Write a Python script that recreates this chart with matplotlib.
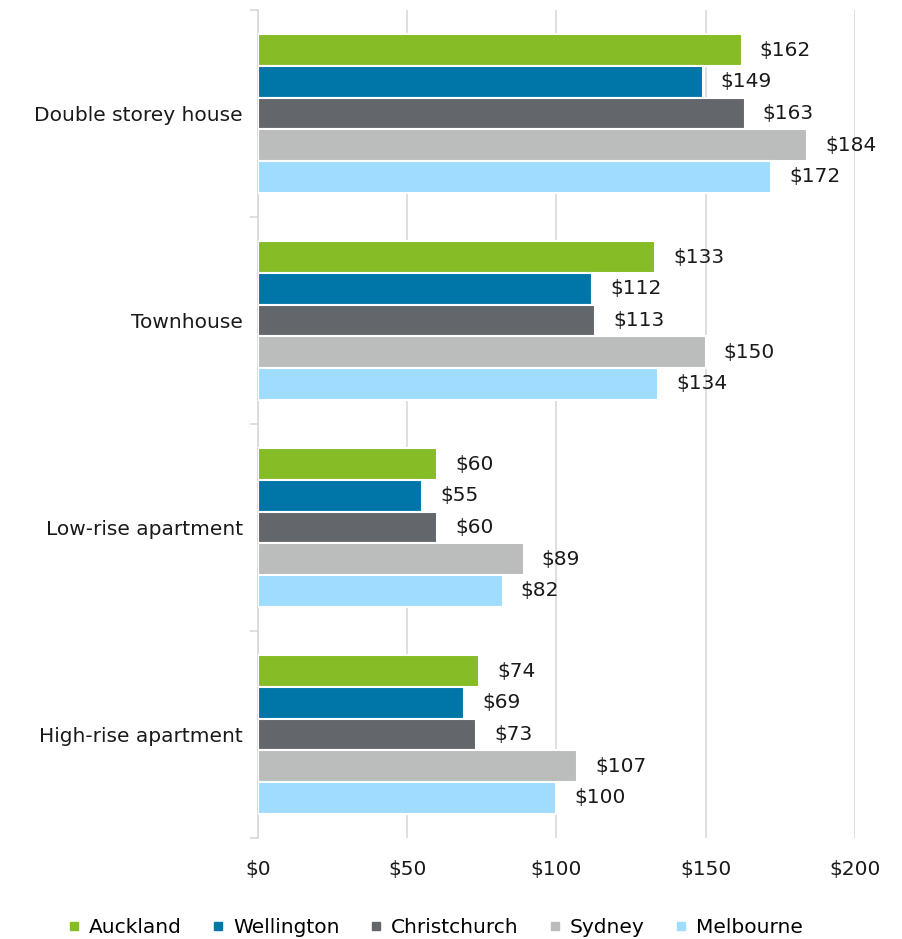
import numpy as np
import matplotlib.pyplot as plt
from matplotlib.ticker import FuncFormatter, FixedLocator

categories = ['Double storey house', 'Townhouse', 'Low-rise apartment', 'High-rise apartment']
cities = ['Auckland', 'Wellington', 'Christchurch', 'Sydney', 'Melbourne']
colours = ['#86bc25', '#0076a8', '#63666a', '#bbbcbc', '#a0dcff']

auckland = [162, 133, 60, 74]
wellington = [149, 112, 55, 69]
christchurch = [163, 113, 60, 73]
sydney = [184, 150, 89, 107]
melbourne = [172, 134, 82, 100]
series = [auckland, wellington, christchurch, sydney, melbourne]

fs = 14.5
plt.rcParams['font.family'] = ['DejaVu Sans']
fig = plt.figure(figsize=(9.03, 9.39), dpi=100)
ax = fig.add_axes([0.2857, 0.1076, 0.6611, 0.8818])

y = np.arange(len(categories))
h = 0.153
for j, (vals, col, name) in enumerate(zip(series, colours, cities)):
    pos = y + (j - 2) * h
    bars = ax.barh(pos, vals, height=h, color=col, edgecolor='white', linewidth=1.5,
                   label=name, zorder=3)
    for b, v in zip(bars, vals):
        ax.annotate('$%d' % v, (v, b.get_y() + b.get_height() / 2), xytext=(13, 0),
                    textcoords='offset points', va='center', ha='left', fontsize=fs,
                    color='#1a1a1a')

ax.set_xlim(0, 200)
ax.set_ylim(len(categories) - 0.5, -0.5)
ax.xaxis.set_major_locator(FixedLocator([0, 50, 100, 150, 200]))
ax.xaxis.set_major_formatter(FuncFormatter(lambda v, p: '$%d' % v))
ax.grid(axis='x', color='#d9d9d9', linewidth=1.2, zorder=0)
ax.tick_params(axis='x', length=0, pad=16, labelsize=fs, labelcolor='#1a1a1a')

ax.set_yticks(y)
ax.set_yticklabels(categories, fontsize=fs, color='#1a1a1a')
ax.set_yticks(np.arange(-0.5, len(categories)), minor=True)
ax.tick_params(axis='y', which='major', length=0, pad=11)
ax.tick_params(axis='y', which='minor', length=6, color='#d9d9d9', width=1.2)

for s in ['top', 'right', 'bottom']:
    ax.spines[s].set_visible(False)
ax.spines['left'].set_color('#d9d9d9')
ax.spines['left'].set_linewidth(1.2)

handles = [plt.Line2D([], [], marker='s', linestyle='', color=c, markersize=6) for c in colours]
fig.legend(handles, cities, loc='lower center', bbox_to_anchor=(0.48, -0.017), ncol=5,
           frameon=False, fontsize=fs, handletextpad=0.25, columnspacing=1.3,
           handlelength=1.0)

fig.savefig('out.png', dpi=100)
